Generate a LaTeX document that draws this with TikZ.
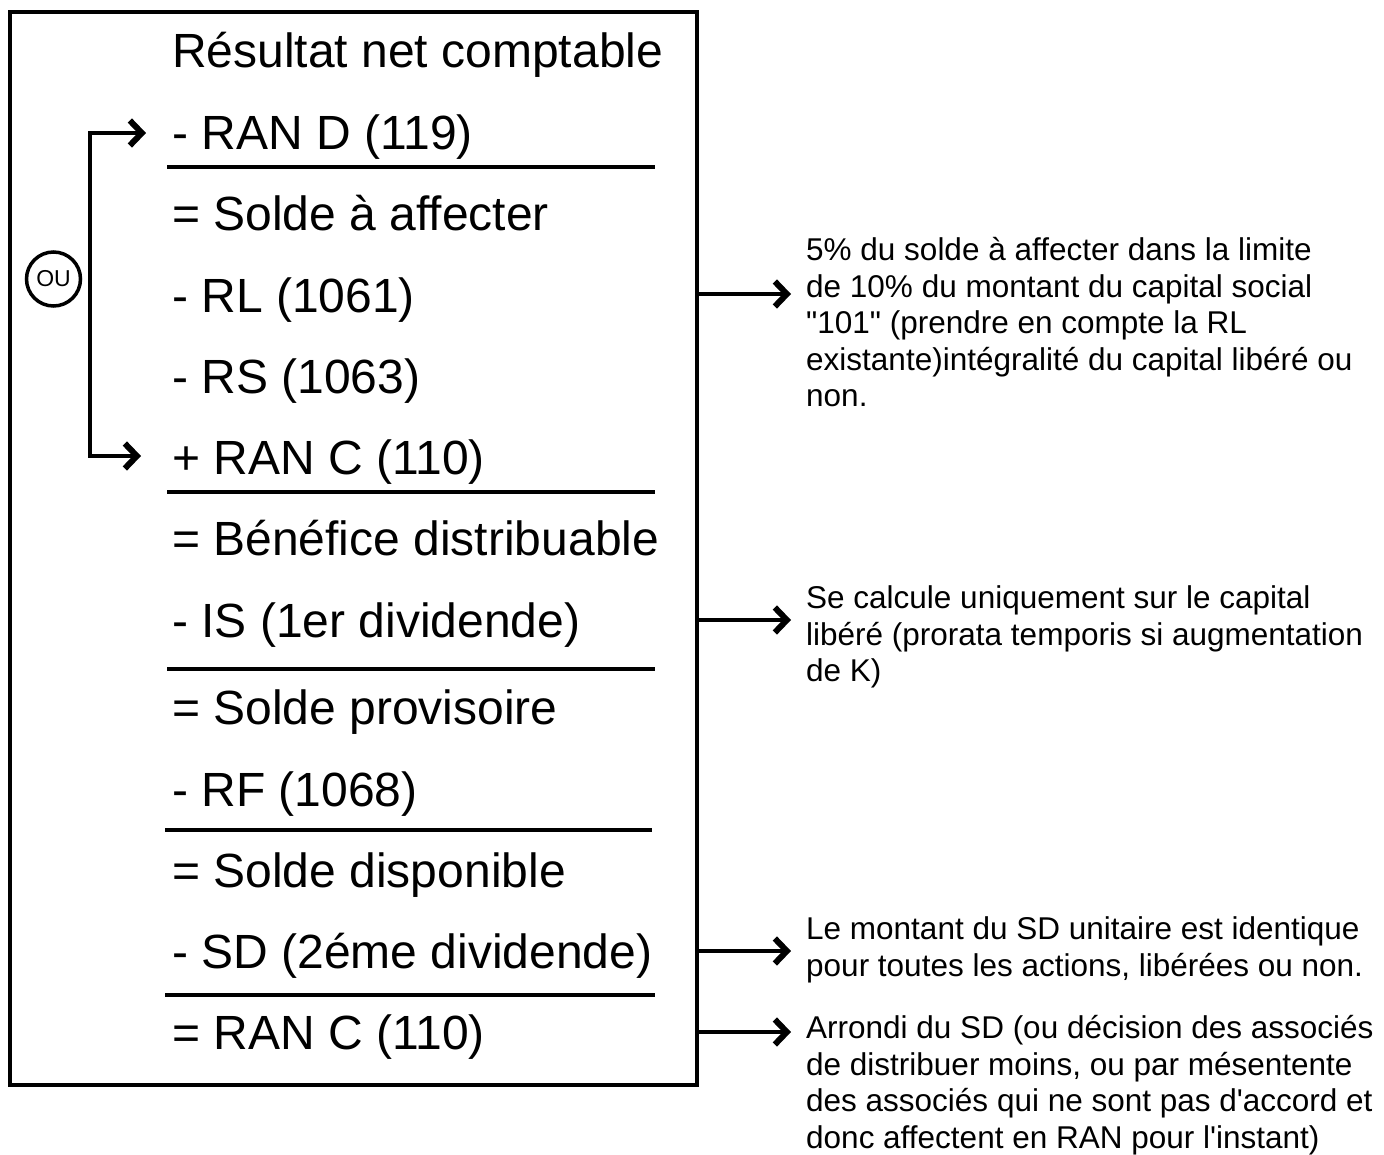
\documentclass[tikz,border=0pt]{standalone}
\usepackage{fontspec}
\setmainfont{Liberation Sans}[Ligatures=TeXOff]
\usetikzlibrary{arrows.meta}
\begin{document}
\begin{tikzpicture}[x=1pt,y=-1pt,
  row/.style={anchor=base west, inner sep=0pt, font=\fontsize{48}{56}\selectfont},
  note/.style={anchor=north west, inner sep=0pt, align=left, font=\fontsize{31.5}{36.4}\selectfont},
  sep/.style={line width=4pt},
  arr/.style={line width=4pt, -{Straight Barb[length=12pt,width=25pt,line width=6pt]}},
  arrb/.style={line width=4pt, line join=miter, {Straight Barb[length=12pt,width=25pt,line width=6pt]}-{Straight Barb[length=12pt,width=25pt,line width=6pt]}},
  ]
\fill[white] (0,0) rectangle (1384,1154);
\useasboundingbox (0,0) rectangle (1384,1154);
% frame
\node[draw, line width=4pt, inner sep=0pt, outer sep=0pt, minimum width=687pt, minimum height=1073pt, anchor=north west] (box) at (10,12) {};
% rows
\node[row] (r1) at (172,67) {Résultat net comptable};
\node[row] (r2) at (172,149) {- RAN D (119)};
\node[row] (r3) at (172,230) {= Solde à affecter};
\node[row] (r4) at (172,312) {- RL (1061)};
\node[row] (r5) at (172,393) {- RS (1063)};
\node[row] (r6) at (172,474) {+ RAN C (110)};
\node[row] (r7) at (172,555) {= Bénéfice distribuable};
\node[row] (r8) at (172,637) {- IS (1er dividende)};
\node[row] (r9) at (172,724) {= Solde provisoire};
\node[row] (r10) at (172,806) {- RF (1068)};
\node[row] (r11) at (172,887) {= Solde disponible};
\node[row] (r12) at (172,968) {- SD (2éme dividende)};
\node[row] (r13) at (172,1049) {= RAN C (110)};
% separators
\draw[sep] (167,167) -- (655,167);
\draw[sep] (167,492) -- (655,492);
\draw[sep] (167,669) -- (655,669);
\draw[sep] (165,830) -- (652,830);
\draw[sep] (165,995) -- (655,995);
% "ou" bracket
\node[draw, circle, line width=3.5pt, minimum size=54pt, inner sep=0pt, font=\fontsize{23}{25}\selectfont] (ou) at (53.5,279) {OU};
\coordinate (bt) at (90,133);
\coordinate (bb) at (90,456);
\coordinate (at) at (146,133);
\coordinate (ab) at (141,456);
\draw[arrb] (at) -- (bt) -- (bb) -- (ab);
% notes
\node[note] (n1) at (806,235.3) {\strut 5\% du solde à affecter dans la limite\\de 10\% du montant du capital social\\"101" (prendre en compte la RL\\existante)intégralité du capital libéré ou\\non.};
\node[note] (n2) at (806,583.3) {\strut Se calcule uniquement sur le capital\\libéré (prorata temporis si augmentation\\de K)};
\node[note] (n3) at (806,914.3) {\strut Le montant du SD unitaire est identique\\pour toutes les actions, libérées ou non.};
\node[note] (n4) at (806,1013.3) {\strut Arrondi du SD (ou décision des associés\\de distribuer moins, ou par mésentente\\des associés qui ne sont pas d'accord et\\donc affectent en RAN pour l'instant)};
% arrows to notes
\coordinate (a1) at (791,294);
\coordinate (a2) at (791,620);
\coordinate (a3) at (791,951);
\coordinate (a4) at (791,1032);
\draw[arr] (box.east |- a1) -- (a1);
\draw[arr] (box.east |- a2) -- (a2);
\draw[arr] (box.east |- a3) -- (a3);
\draw[arr] (box.east |- a4) -- (a4);
\end{tikzpicture}
\end{document}
